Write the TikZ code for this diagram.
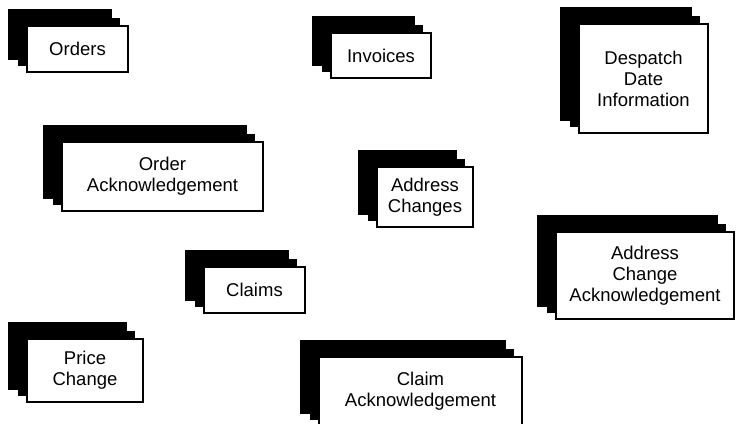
\documentclass[tikz,border=0pt]{standalone}
\usepackage{fontspec}
\setmainfont{Liberation Sans}
\usetikzlibrary{fit}
\tikzset{
  docbox/.style={draw=black, line width=1.2pt, fill=white, inner sep=0pt},
  doctext/.style={align=center, inner sep=0pt, font=\fontsize{18.5}{21}\selectfont},
  backsheet/.style={fill=black}
}
% name, x1, y1, x2, y2, text
\newcommand\docstack[6]{%
  \foreach \k in {2,1}{%
    \fill[backsheet] (#2-9.5*\k, #3-8.5*\k) rectangle (#4-8*\k, #5-6*\k);
  }%
  \node[docbox, fit={(#2,#3) (#4,#5)}] (#1) {};
  \node[doctext] (#1-label) at (#1.center) {#6};
}
\begin{document}
\begin{tikzpicture}[x=1pt, y=-1pt]
\useasboundingbox (0,0) rectangle (736,423);
\docstack{orders}{27}{26}{128}{72}{Orders}
\docstack{invoices}{331}{33}{431}{78}{Invoices}
\docstack{despatch}{579}{24}{708}{133}{Despatch\\Date\\Information}
\docstack{orderack}{62}{142}{263}{211}{Order\\Acknowledgement}
\docstack{addrchg}{377}{167}{473}{227}{Address\\Changes}
\docstack{addrack}{556}{232}{734}{319}{Address\\Change\\Acknowledgement}
\docstack{claims}{204}{267}{305}{313}{Claims}
\docstack{price}{27}{339}{143}{402}{Price\\Change}
\docstack{claimack}{319}{357}{522}{426}{Claim\\Acknowledgement}
\end{tikzpicture}
\end{document}
